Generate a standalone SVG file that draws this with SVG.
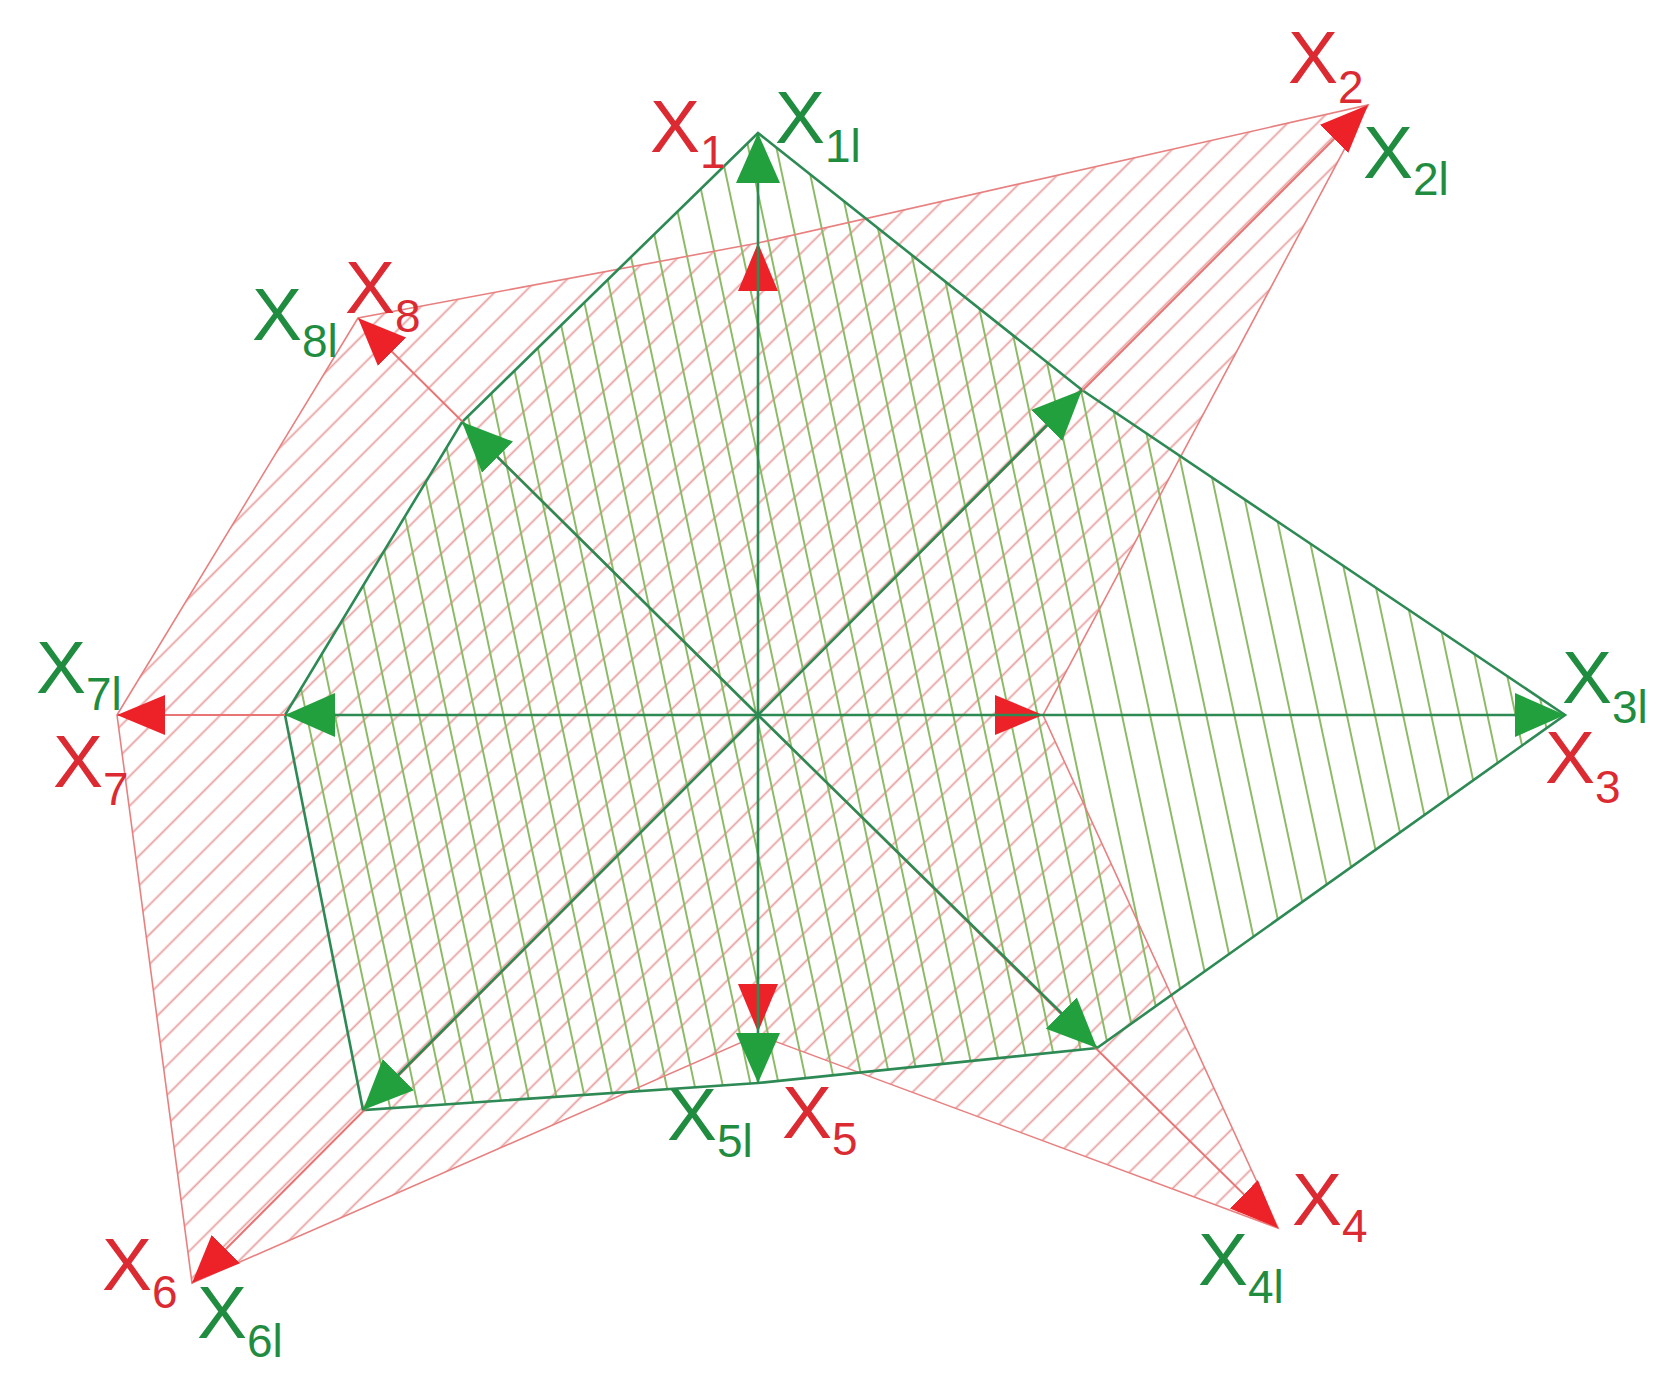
<svg xmlns="http://www.w3.org/2000/svg" width="1678" height="1381" viewBox="0 0 1678 1381">
<style>
.lab{font-family:"Liberation Sans",Arial,sans-serif;font-size:75px}
.r{fill:#dc2a32}
.g{fill:#1f8c40}
.redEdge{fill:none;stroke:#e88080;stroke-width:1.6}
.greenEdge{fill:none;stroke:#2e8a55;stroke-width:2.6;stroke-linejoin:miter}
.redRay{stroke:#e87474;stroke-width:2}
.greenRay{stroke:#2c8a52;stroke-width:2.6}
</style>
<defs>
<pattern id="redHatch" patternUnits="userSpaceOnUse" width="21" height="21" patternTransform="rotate(-45)">
<line x1="0" y1="10.5" x2="21" y2="10.5" stroke="#e8a0a0" stroke-width="1.8"/>
</pattern>
<pattern id="greenHatch" patternUnits="userSpaceOnUse" width="27.5" height="27.5" patternTransform="rotate(-12)">
<line x1="13.75" y1="0" x2="13.75" y2="27.5" stroke="#8cba66" stroke-width="2"/>
</pattern>
<marker id="gHead" markerUnits="userSpaceOnUse" viewBox="0 0 50 44" markerWidth="50" markerHeight="44" refX="50" refY="22" orient="auto">
<path d="M0,0 L50,22 L0,44 z" fill="#22a03e"/>
</marker>
<marker id="rHead" markerUnits="userSpaceOnUse" viewBox="0 0 48 40" markerWidth="48" markerHeight="40" refX="48" refY="20" orient="auto">
<path d="M0,0 L48,20 L0,40 z" fill="#ec2228"/>
</marker>
</defs>
<rect width="1678" height="1381" fill="#ffffff"/>
<g id="hatching">
<polygon points="758,243 1368,105 1043,715 1278,1228 758,1035 192,1283 117,715 358,318" fill="url(#redHatch)" stroke="none"/>
<polygon points="758,133 1082,390 1565,715 1097,1048 758,1083 363,1110 285,715 462,422" fill="url(#greenHatch)" stroke="none"/>
</g>
<g id="connectors">
<polygon class="redEdge" points="758,243 1368,105 1043,715 1278,1228 758,1035 192,1283 117,715 358,318"/>
<polygon class="greenEdge" points="758,133 1082,390 1565,715 1097,1048 758,1083 363,1110 285,715 462,422"/>
<line class="redRay" x1="758" y1="715" x2="758" y2="243" marker-end="url(#rHead)"/>
<line class="redRay" x1="758" y1="715" x2="1368" y2="105" marker-end="url(#rHead)"/>
<line class="redRay" x1="758" y1="715" x2="1043" y2="715" marker-end="url(#rHead)"/>
<line class="redRay" x1="758" y1="715" x2="1278" y2="1228" marker-end="url(#rHead)"/>
<line class="redRay" x1="758" y1="715" x2="758" y2="1032" marker-end="url(#rHead)"/>
<line class="redRay" x1="758" y1="715" x2="192" y2="1283" marker-end="url(#rHead)"/>
<line class="redRay" x1="758" y1="715" x2="117" y2="715" marker-end="url(#rHead)"/>
<line class="redRay" x1="758" y1="715" x2="358" y2="318" marker-end="url(#rHead)"/>
<line class="greenRay" x1="758" y1="715" x2="758" y2="133" marker-end="url(#gHead)"/>
<line class="greenRay" x1="758" y1="715" x2="1082" y2="390" marker-end="url(#gHead)"/>
<line class="greenRay" x1="758" y1="715" x2="1565" y2="715" marker-end="url(#gHead)"/>
<line class="greenRay" x1="758" y1="715" x2="1097" y2="1048" marker-end="url(#gHead)"/>
<line class="greenRay" x1="758" y1="715" x2="758" y2="1083" marker-end="url(#gHead)"/>
<line class="greenRay" x1="758" y1="715" x2="363" y2="1110" marker-end="url(#gHead)"/>
<line class="greenRay" x1="758" y1="715" x2="285" y2="715" marker-end="url(#gHead)"/>
<line class="greenRay" x1="758" y1="715" x2="462" y2="422" marker-end="url(#gHead)"/>
</g>
<g id="node1"><text class="lab r" x="650" y="152">X<tspan font-size="46" dy="16">1</tspan></text><text class="lab g" x="775" y="143">X<tspan font-size="46" dy="19">1l</tspan></text></g>
<g id="node2"><text class="lab r" x="1288" y="83">X<tspan font-size="46" dy="20">2</tspan></text><text class="lab g" x="1363" y="178">X<tspan font-size="46" dy="17">2l</tspan></text></g>
<g id="node3"><text class="lab g" x="1562" y="703">X<tspan font-size="46" dy="20">3l</tspan></text><text class="lab r" x="1545" y="783">X<tspan font-size="46" dy="20">3</tspan></text></g>
<g id="node4"><text class="lab r" x="1292" y="1225">X<tspan font-size="46" dy="17">4</tspan></text><text class="lab g" x="1198" y="1285">X<tspan font-size="46" dy="18">4l</tspan></text></g>
<g id="node5"><text class="lab g" x="667" y="1140">X<tspan font-size="46" dy="17">5l</tspan></text><text class="lab r" x="782" y="1138">X<tspan font-size="46" dy="17">5</tspan></text></g>
<g id="node6"><text class="lab r" x="102" y="1290">X<tspan font-size="46" dy="18">6</tspan></text><text class="lab g" x="197" y="1338">X<tspan font-size="46" dy="19">6l</tspan></text></g>
<g id="node7"><text class="lab g" x="36" y="693">X<tspan font-size="46" dy="17">7l</tspan></text><text class="lab r" x="53" y="787">X<tspan font-size="46" dy="18">7</tspan></text></g>
<g id="node8"><text class="lab g" x="252" y="340">X<tspan font-size="46" dy="17">8l</tspan></text><text class="lab r" x="345" y="313">X<tspan font-size="46" dy="19">8</tspan></text></g>
</svg>
